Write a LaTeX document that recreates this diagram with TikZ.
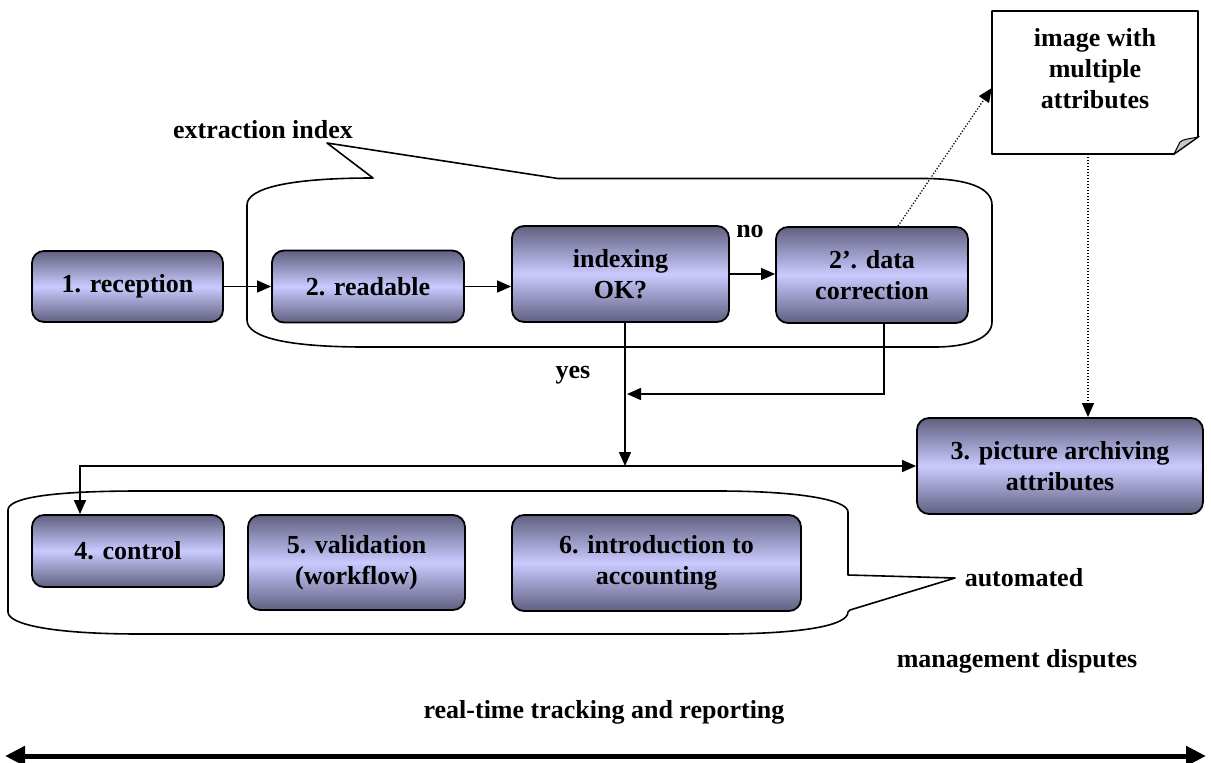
\documentclass[tikz,border=0pt]{standalone}
\usepackage{fontspec}
\setmainfont{Liberation Serif}
\usetikzlibrary{arrows.meta}
\definecolor{boxdark}{RGB}{96,96,128}
\definecolor{boxlight}{RGB}{202,202,255}
\newcommand\dfont{\fontsize{26}{31}\selectfont\bfseries}
\begin{document}
\begin{tikzpicture}[x=1pt,y=-1pt,
  proc/.style={draw=black, line width=1.8pt, rounded corners=12pt, top color=boxdark, bottom color=boxdark, middle color=boxlight, align=center, font=\dfont, inner sep=0pt},
  lbl/.style={font=\dfont, inner sep=0pt, align=center},
  conn/.style={line width=1.5pt, -{Triangle[length=14pt,width=12pt]}},
  dots/.style={line width=1.3pt, dash pattern=on 1.2pt off 1.8pt, -{Triangle[length=14pt,width=12pt]}},
  outline/.style={line width=1.6pt, line join=round}]
\useasboundingbox (0,0) rectangle (1211,763);

% callouts
\draw[outline] (373,178) -- (327,143) -- (558,178.5) -- (923,178.5) .. controls (968,178.5) and (992,188) .. (992,205) -- (992,322) .. controls (992,338) and (968,347) .. (935,347) -- (365,347) .. controls (290,347) and (247,338) .. (247,320) -- (247,205) .. controls (247,188) and (290,178) .. (373,178) -- cycle;
\node[lbl] (ext) at (263,130) {extraction index};

\draw[outline] (140,491) -- (717,491) .. controls (800,491) and (848,500) .. (848,512) -- (848,575) -- (955,578) -- (850,610) -- (848,612) .. controls (848,626) and (800,634) .. (717,634) -- (140,634) .. controls (50,634) and (8,624) .. (8,612) -- (8,510) .. controls (8,498) and (50,491) .. (140,491) -- cycle;
\node[lbl] (auto) at (1024,578) {automated};

% process boxes
\node[proc, minimum width=191pt, minimum height=71pt] (b1) at (127.5,286.5) {1. reception};
\node[proc, minimum width=192pt, minimum height=72pt] (b2) at (368,286.5) {2. readable};
\node[proc, minimum width=217pt, minimum height=96pt] (b3) at (620.5,274) {indexing\\OK?};
\node[proc, minimum width=192pt, minimum height=96pt] (b4) at (872,275) {2’. data\\correction};
\node[proc, minimum width=286pt, minimum height=96pt] (b5) at (1060,466) {3. picture archiving\\attributes};
\node[proc, minimum width=192pt, minimum height=72pt] (b6) at (128,551) {4. control};
\node[proc, minimum width=217pt, minimum height=95pt] (b7) at (356.5,562.5) {5. validation\\(workflow)};
\node[proc, minimum width=289pt, minimum height=96pt] (b8) at (656.5,563) {6. introduction to\\accounting};

% note
\node[minimum width=206pt, minimum height=143pt, inner sep=0pt] (note) at (1095,82.5) {};
\draw[outline, fill=white] (992,11) -- (1198,11) -- (1198,137) -- (1174,154) -- (992,154) -- cycle;
\draw[line width=1pt, fill=gray!45] (1174,154) -- (1198,137) .. controls (1189,139) and (1183,139) .. (1180,142) .. controls (1178,146) .. (1174,154) -- cycle;
\node[lbl] (notetxt) at (1095,69) {image with\\multiple\\attributes};

% connectors
\draw[conn] (b1.east) -- (b2.west);
\draw[conn] (b2.east) -- (b2.east -| b3.west);
\draw[conn] (b3.east) -- (b3.east -| b4.west);
\node[lbl] (no) at (750,231) {no};
\coordinate (J) at (625,466);
\draw[conn] ([xshift=4.5pt]b3.south) -- (J);
\node[lbl] (yes) at (573,375) {yes};
\coordinate (K) at (627,394);
\draw[conn] ([xshift=12pt]b4.south) |- (K);
\coordinate (J2) at (633,466);
\draw[conn] (J2) -| ([xshift=-48pt]b6.north);
\draw[conn] (J2) -- (J2 -| b5.west);
\draw[dots] ([xshift=26pt]b4.north) -- ([yshift=-5.5pt]note.west);
\draw[dots] ([xshift=-7pt]note.south) -- ([xshift=-7pt]note.south |- b5.north);

% bottom texts
\node[lbl] (mgmt) at (1017,661) {management disputes};
\node[lbl] (rt) at (604,712) {real-time tracking and reporting};
\coordinate (AL) at (5,756);
\coordinate (AR) at (1206,756);
\draw[line width=5pt, {Triangle[length=20pt,width=19pt]}-{Triangle[length=20pt,width=19pt]}] (AL) -- (AR);
\end{tikzpicture}
\end{document}
